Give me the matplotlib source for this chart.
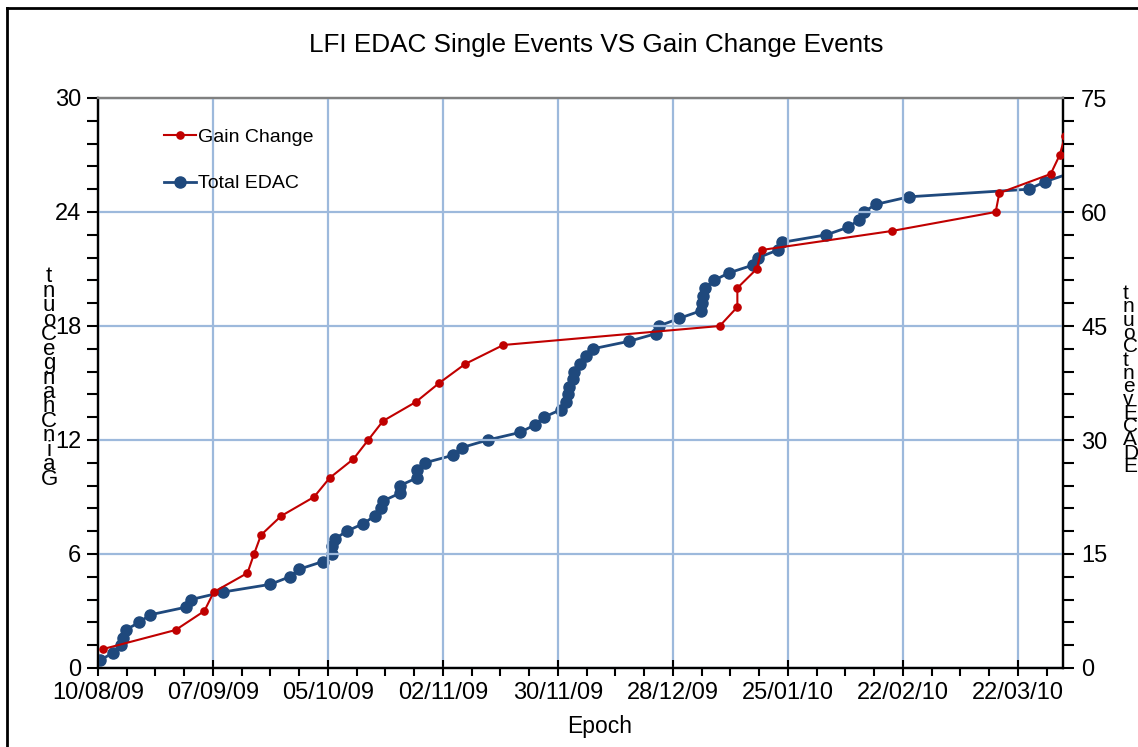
import numpy as np
import matplotlib
matplotlib.use("Agg")
import matplotlib.pyplot as plt
import matplotlib.dates as mdates
from matplotlib.ticker import FixedLocator, MultipleLocator
from matplotlib.lines import Line2D

plt.rcParams['font.family'] = ['Liberation Sans', 'DejaVu Sans']

# ---- data (days since 10/08/09, cumulative counts) ----
start_date = "2009-08-10"
gain_days = [1.3, 18.9, 25.9, 28.2, 36.4, 38.0, 39.7, 44.6, 52.6, 56.4, 62.2, 65.8,
             69.4, 77.4, 83.1, 89.4, 98.7, 151.4, 155.7, 155.7, 160.4, 161.6,
             193.3, 218.6, 219.5, 232.0, 234.2, 235.5, 236.8]
gain_counts = [1, 2, 3, 4, 5, 6, 7, 8, 9, 10, 11, 12, 13, 14, 15, 16, 17, 18, 19,
               20, 21, 22, 23, 24, 25, 26, 27, 28, 29]

edac_days = [0.5, 3.6, 5.5, 6.2, 6.7, 10.0, 12.7, 21.4, 22.6, 30.5, 41.9, 46.7,
             49.0, 54.7, 56.9, 56.9, 57.7, 60.6, 64.6, 67.4, 68.8, 69.5, 73.5,
             73.5, 77.6, 77.6, 79.6, 86.5, 88.6, 94.9, 102.8, 106.4, 108.6, 112.7,
             114.0, 114.5, 114.8, 115.6, 115.9, 117.4, 118.8, 120.5, 129.4, 135.9,
             136.6, 141.5, 146.8, 147.0, 147.4, 147.8, 150.0, 153.7, 159.4, 160.8,
             165.6, 166.5, 177.4, 182.7, 185.4, 186.5, 189.4, 197.5, 226.7, 230.7,
             236.2]
edac_counts = list(range(1, 66))

x_tick_days = [0, 28, 56, 84, 112, 140, 168, 196, 224]
x_end_day = 235

title = "LFI EDAC Single Events VS Gain Change Events"
xlabel = "Epoch"
left_label = "Gain Change Count"
right_label = "EDAC Event Count"

RED = "#C00000"
BLUE = "#1F497D"
GRID = "#9DB9DC"

base = mdates.datestr2num(start_date)
gx = base + np.array(gain_days)
ex = base + np.array(edac_days)

W, H = 1138, 747
fig = plt.figure(figsize=(W / 100, H / 100), dpi=100)
ax = fig.add_axes([98 / W, 1 - 668 / H, (1063 - 98) / W, (668 - 98) / H])
ax2 = ax.twinx()

ax.set_xlim(base, base + x_end_day)
ax.set_ylim(0, 30)
ax2.set_ylim(0, 75)

ax.xaxis.set_major_locator(FixedLocator(base + np.array(x_tick_days)))
ax.xaxis.set_minor_locator(FixedLocator(base + np.arange(0, x_end_day + 1, 7)))
ax.xaxis.set_major_formatter(mdates.DateFormatter('%d/%m/%y'))
ax.yaxis.set_major_locator(MultipleLocator(6))
ax.yaxis.set_minor_locator(MultipleLocator(1.2))
ax2.yaxis.set_major_locator(MultipleLocator(15))
ax2.yaxis.set_minor_locator(MultipleLocator(3))

ax.grid(True, which='major', color=GRID, linewidth=1.6)
ax.set_axisbelow(True)

ax.plot(gx, gain_counts, color=RED, lw=1.5, marker='o', ms=5.2, mfc=RED,
        mec=RED, zorder=4, clip_on=True)
ax2.plot(ex, edac_counts, color=BLUE, lw=2.0, marker='o', ms=8,
         mfc=BLUE, mec=BLUE, zorder=3)
# draw red above blue
ax.set_zorder(ax2.get_zorder() + 1)
ax.patch.set_visible(False)

for a in (ax, ax2):
    for s in ('left', 'right', 'bottom'):
        a.spines[s].set_color('black')
        a.spines[s].set_linewidth(1.6)
    a.spines['top'].set_color('#808080')
    a.spines['top'].set_linewidth(1.6)

ax.tick_params(axis='x', which='major', direction='inout', length=12, width=1.5,
               labelsize=17, pad=4)
ax.tick_params(axis='x', which='minor', direction='out', length=6, width=1.5)
ax.tick_params(axis='y', which='both', direction='out', length=8, width=1.5,
               labelsize=17, pad=4)
ax2.tick_params(axis='y', which='both', direction='out', length=8, width=1.5,
                labelsize=17, pad=5)

fig.text(596 / W, 1 - 45 / H, title, ha='center', va='center', fontsize=18.8)
fig.text(600 / W, 1 - 727 / H, xlabel, ha='center', va='center', fontsize=16.5)

stack_l = "\n".join(reversed(left_label.replace(" ", "")))
fig.text(49 / W, 1 - 378 / H, stack_l, ha='center', va='center', fontsize=16,
         linespacing=0.59)
stack_r = "\n".join(reversed(right_label.replace(" ", "")))
fig.text(1123 / W, 1 - 380 / H, stack_r, ha='left', va='center', fontsize=15,
         linespacing=0.62)

handles = [Line2D([], [], color=RED, lw=1.5, marker='o', ms=5.2),
           Line2D([], [], color=BLUE, lw=2.0, marker='o', ms=8)]
ax.legend(handles, ["Gain Change", "Total EDAC"], loc='upper left',
          bbox_to_anchor=(0.05, 0.978), frameon=False, fontsize=14,
          labelspacing=1.5, handlelength=1.65, handletextpad=0.12)

# outer frame (left and top edges visible)
fig.add_artist(Line2D([7 / W, 7 / W], [0, 1 - 8 / H], color='black', lw=2,
                      transform=fig.transFigure))
fig.add_artist(Line2D([7 / W, 1.0], [1 - 8 / H, 1 - 8 / H], color='black', lw=2,
                      transform=fig.transFigure))

fig.savefig("out.png", dpi=100)
